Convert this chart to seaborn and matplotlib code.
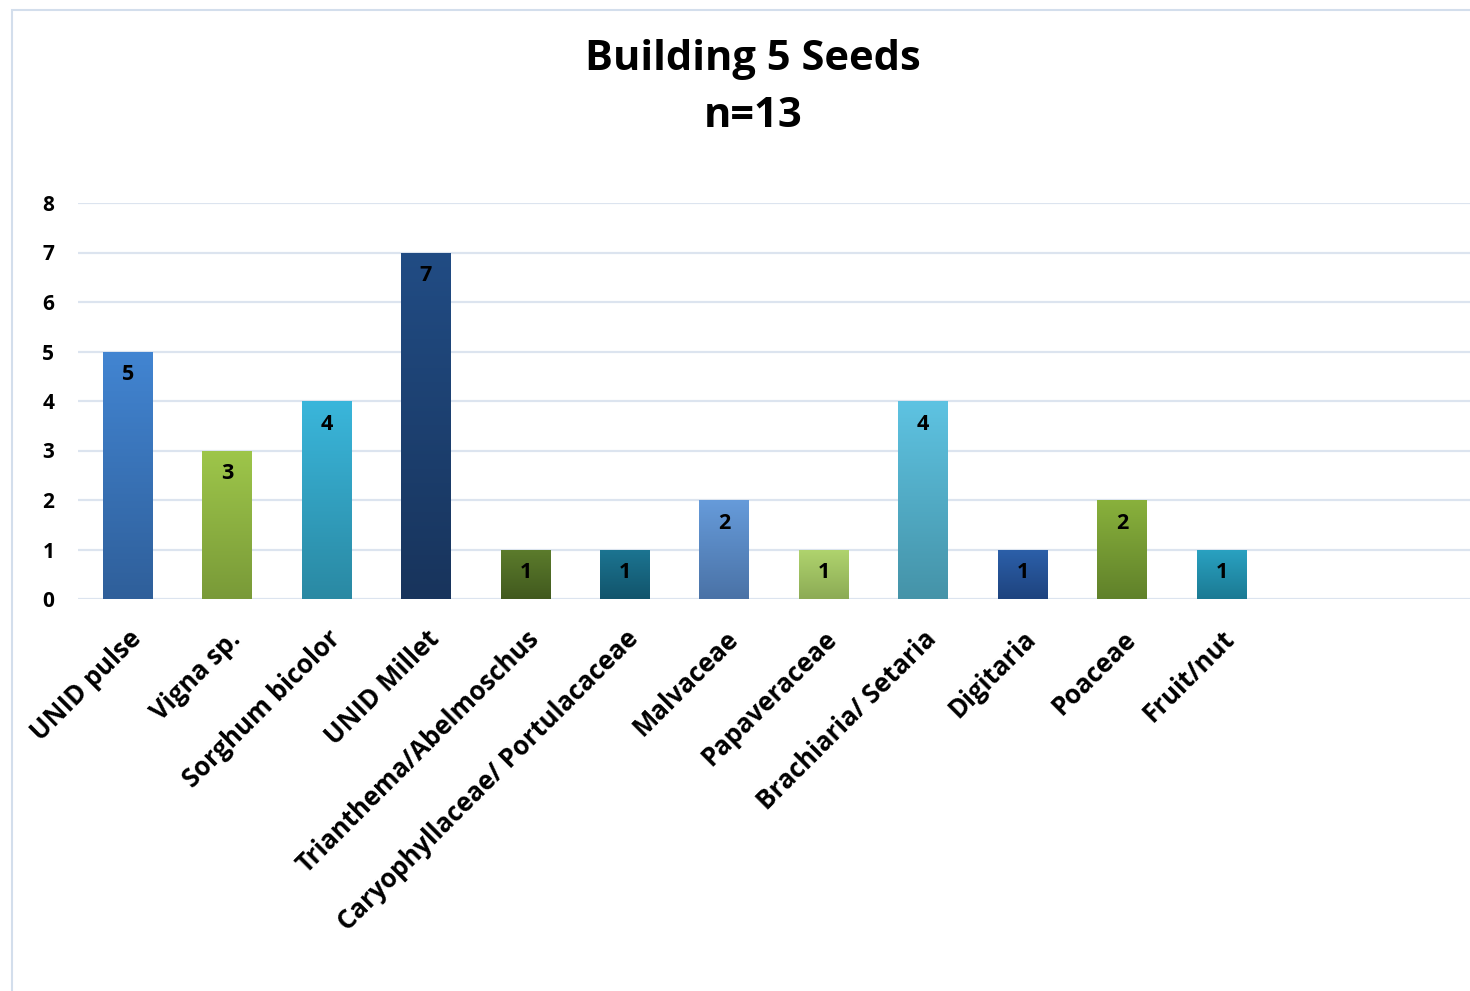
import numpy as np
import pandas as pd
import matplotlib
matplotlib.use("Agg")
import matplotlib.pyplot as plt
from matplotlib.colors import LinearSegmentedColormap
from matplotlib.patches import Rectangle
import seaborn as sns

# Seed counts per taxon
categories = [
    "UNID pulse", "Vigna sp.", "Sorghum bicolor", "UNID Millet",
    "Trianthema/Abelmoschus", "Caryophyllaceae/ Portulacaceae", "Malvaceae",
    "Papaveraceae", "Brachiaria/ Setaria", "Digitaria", "Poaceae", "Fruit/nut",
]
counts = [5, 3, 4, 7, 1, 1, 2, 1, 4, 1, 2, 1]
title_text = "Building 5 Seeds\nn=13"

# Gradient fill for each bar: (top colour, bottom colour)
bar_gradients = [
    ("#4285D2", "#2F5F9A"),
    ("#9EC64A", "#799A38"),
    ("#3AB6DB", "#2A89A3"),
    ("#214C84", "#18345C"),
    ("#5C7C2C", "#41591E"),
    ("#1C7592", "#12546B"),
    ("#669BDA", "#4A72A6"),
    ("#B0D46E", "#8CAB55"),
    ("#5EC3E2", "#4593A8"),
    ("#2C60AA", "#1E437E"),
    ("#89B13C", "#60812A"),
    ("#2AA2C2", "#1B7A93"),
]

sns.set_theme(style="white")
plt.rcParams["font.family"] = ["Open Sans", "DejaVu Sans"]
plt.rcParams["font.weight"] = "bold"
plt.rcParams["text.color"] = "black"
plt.rcParams["xtick.color"] = "black"
plt.rcParams["ytick.color"] = "black"

W, H = 1470, 991
fig = plt.figure(figsize=(W / 100, H / 100), dpi=100)
fig.patch.set_facecolor("white")

# Outer chart-area border
fig.add_artist(Rectangle((12 / W, -0.05), 1.2, 1.05 - 10 / H,
                         transform=fig.transFigure, fill=False,
                         edgecolor="#D3DEEC", linewidth=1.5, zorder=0))

ax = fig.add_axes([78 / W, 1 - 599 / H, (W - 78) / W, (599 - 203) / H])

df = pd.DataFrame({"taxon": categories, "count": counts})
sns.barplot(data=df, x="taxon", y="count", hue="taxon",
            palette=[top for top, _ in bar_gradients], legend=False,
            width=0.5, ax=ax, zorder=3, saturation=1)

ax.set_xlim(-0.5, 13.5)
ax.set_ylim(0, 8)
ax.set_yticks(range(0, 9))
ax.yaxis.grid(True, color="#DCE4EF", linewidth=1.6, zorder=0)
ax.set_axisbelow(True)
for s in ax.spines.values():
    s.set_visible(False)

# Vertical gradients clipped to each bar
grad = np.linspace(1, 0, 256).reshape(-1, 1)
for patch, (top, bottom) in zip(ax.patches, bar_gradients):
    x0, y0 = patch.get_x(), patch.get_y()
    w, h = patch.get_width(), patch.get_height()
    cmap = LinearSegmentedColormap.from_list("g", [bottom, top])
    im = ax.imshow(grad, cmap=cmap, aspect="auto", vmin=0, vmax=1,
                   extent=[x0, x0 + w, y0, y0 + h], origin="upper", zorder=4)
    im.set_clip_path(patch)
    patch.set_edgecolor("none")

ax.set_xlim(-0.5, 13.5)
ax.set_ylim(0, 8)

# Value labels inside the bar tops
for i, v in enumerate(counts):
    ax.text(i, v - 0.47, str(v), ha="center", va="center",
            fontsize=15.5, fontweight="bold", color="black", zorder=6)

ax.set_xlabel("")
ax.set_ylabel("")
ax.tick_params(axis="y", length=0, pad=17, labelsize=15)
ax.tick_params(axis="x", length=0, pad=19, labelsize=18.5)
ax.set_xticks(range(len(categories)))
ax.set_xticklabels(categories, rotation=45, ha="right",
                   rotation_mode="anchor", fontweight="bold")
for lbl in ax.get_yticklabels():
    lbl.set_fontweight("bold")

fig.text(753 / W, 1 - 88 / H, title_text, ha="center", va="center",
         fontsize=30, fontweight="bold", linespacing=1.52)

fig.savefig("out.png", dpi=100)
